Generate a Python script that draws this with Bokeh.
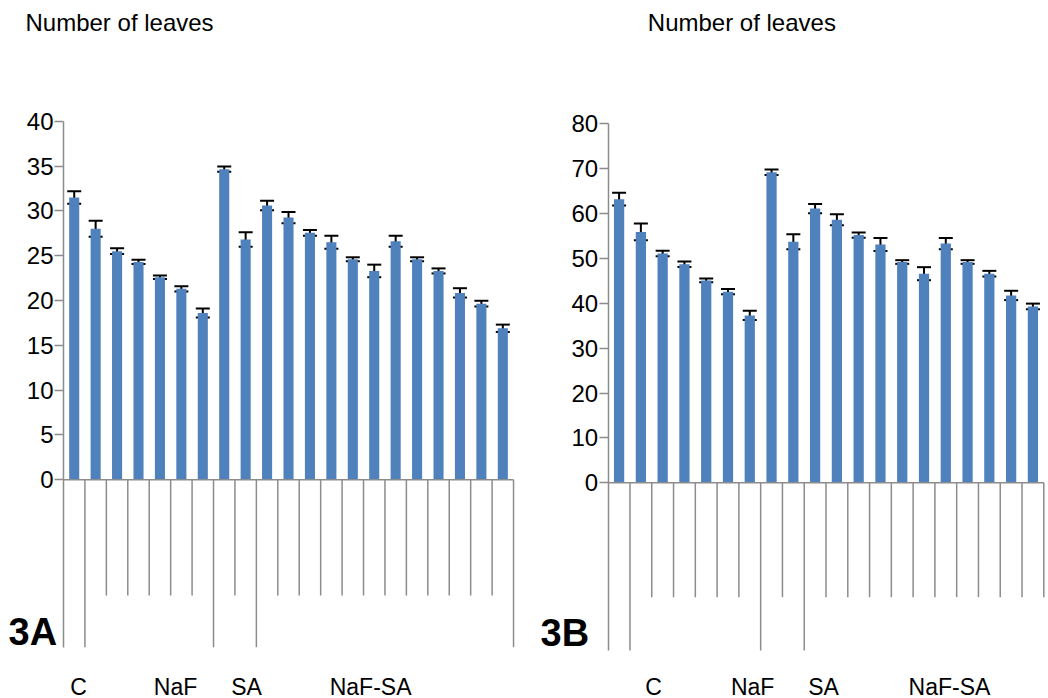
from bokeh.plotting import figure
from bokeh.models import (ColumnDataSource, Whisker, TeeHead, FixedTicker, Label,
                          Range1d, LinearAxis)
from bokeh.layouts import row
from bokeh.embed import file_html
from bokeh.resources import INLINE

# Treatment groups and how many bars each one spans
groups = ["C", "NaF", "SA", "NaF-SA"]
group_sizes_a = [1, 6, 2, 12]
group_sizes_b = [1, 6, 2, 11]

# 3A: number of leaves (mean and error)
leaves_a = [31.5, 28.0, 25.5, 24.3, 22.6, 21.3, 18.6, 34.65, 26.8, 30.6, 29.25,
            27.55, 26.5, 24.6, 23.3, 26.6, 24.6, 23.3, 20.85, 19.65, 16.9]
err_a = [0.7, 0.9, 0.32, 0.24, 0.2, 0.3, 0.5, 0.3, 0.8, 0.54, 0.63,
         0.32, 0.72, 0.22, 0.7, 0.61, 0.22, 0.28, 0.52, 0.32, 0.41]

# 3B: number of leaves (mean and error)
leaves_b = [63.2, 55.9, 51.1, 48.7, 45.1, 42.6, 37.3, 69.2, 53.7, 61.1,
            58.6, 55.2, 53.1, 49.2, 46.6, 53.3, 49.2, 46.6, 41.75, 39.3]
err_b = [1.41, 1.86, 0.63, 0.59, 0.41, 0.59, 1.04, 0.63, 1.67, 1.04,
         1.23, 0.59, 1.45, 0.41, 1.45, 1.26, 0.41, 0.63, 1.04, 0.63]

ticks_a = [0, 5, 10, 15, 20, 25, 30, 35, 40]
ticks_b = [0, 10, 20, 30, 40, 50, 60, 70, 80]

BAR_COLOR = "#4F81BD"
AXIS_COLOR = "#8c8c8c"
FONT = "Liberation Sans"
FIG_H = 698


def panel(name, values, errors, sizes, ticks, fig_w, axis_px, slot_px,
          top_px, zero_px, short_px, long_px, right_long, group_label_x,
          title_px, name_px, group_label_py):
    ymax = ticks[-1]
    scale = (zero_px - top_px) / ymax          # pixels per unit

    def dx(px):
        return (px - axis_px) / slot_px

    def dy(py):
        return (zero_px - py) / scale

    p = figure(width=fig_w, height=FIG_H, output_backend="svg", toolbar_location=None,
               x_range=Range1d(dx(0), dx(fig_w)), y_range=Range1d(dy(FIG_H), dy(0)),
               x_axis_location=None, y_axis_location=None,
               min_border=0)
    p.outline_line_color = None
    p.grid.visible = False
    p.background_fill_color = None
    p.border_fill_color = "white"

    n = len(values)
    xs = [i + 0.5 for i in range(n)]
    src = ColumnDataSource(dict(x=xs, top=values,
                                upper=[v + e for v, e in zip(values, errors)],
                                lower=[v - e for v, e in zip(values, errors)]))
    p.vbar(x="x", top="top", width=0.47, bottom=0, source=src,
           fill_color=BAR_COLOR, line_color=None)

    p.add_layout(Whisker(source=src, base="x", upper="upper", lower="lower",
                         line_color="black", line_width=2,
                         upper_head=TeeHead(size=14, line_color="black", line_width=2),
                         lower_head=TeeHead(size=14, line_color="black", line_width=2)))

    # value axis pinned at x=0; its line runs down as the first group divider
    ax = LinearAxis(fixed_location=0)
    ax.ticker = FixedTicker(ticks=ticks)
    ax.bounds = (dy(long_px), ymax)
    ax.axis_line_color = AXIS_COLOR
    ax.axis_line_width = 1.5
    ax.major_tick_line_color = AXIS_COLOR
    ax.major_tick_line_width = 1.5
    ax.major_tick_out = 9
    ax.major_tick_in = 0
    ax.minor_tick_out = 0
    ax.minor_tick_in = 0
    ax.major_label_standoff = 1
    ax.major_label_text_font = FONT
    ax.major_label_text_font_size = "24px"
    ax.major_label_text_color = "black"
    p.add_layout(ax, "left")

    # category baseline and dividers below it
    p.segment(x0=[0], y0=[0], x1=[n], y1=[0], line_color=AXIS_COLOR, line_width=1.5)
    bounds = []
    acc = 0
    for s in sizes:
        acc += s
        bounds.append(acc)
    x0, y1 = [], []
    for k in range(1, n + 1):
        is_long = k in bounds[:-1] or (k == n and right_long)
        x0.append(k)
        y1.append(dy(long_px) if is_long else dy(short_px))
    p.segment(x0=x0, y0=[0] * len(x0), x1=x0, y1=y1,
              line_color=AXIS_COLOR, line_width=1.5)

    for g, gx in zip(groups, group_label_x):
        p.add_layout(Label(x=gx, y=dy(group_label_py), text=g, text_font=FONT,
                           text_font_size="23px", text_align="center",
                           text_baseline="middle", text_color="black"))

    p.add_layout(Label(x=dx(title_px[0]), y=dy(title_px[1]), text="Number of leaves",
                       text_font=FONT, text_font_size="24px", text_align="left",
                       text_baseline="middle", text_color="black"))
    p.add_layout(Label(x=dx(name_px[0]), y=dy(name_px[1]), text=name,
                       text_font=FONT, text_font_size="38px", text_font_style="bold",
                       text_align="left", text_baseline="middle", text_color="black"))
    return p


pa = panel("3A", leaves_a, err_a, group_sizes_a, ticks_a, fig_w=530,
           axis_px=63, slot_px=21.43, top_px=120.7, zero_px=479.3,
           short_px=595, long_px=646.7, right_long=True,
           group_label_x=[0.70, 5.23, 8.54, 14.33],
           title_px=(25, 22), name_px=(8, 631), group_label_py=686)

pb = panel("3B", leaves_b, err_b, group_sizes_b, ticks_b, fig_w=518,
           axis_px=77.7, slot_px=21.78, top_px=123.3, zero_px=482.3,
           short_px=596.7, long_px=650, right_long=False,
           group_label_x=[2.08, 6.63, 9.89, 15.67],
           title_px=(117.3, 22), name_px=(10, 632), group_label_py=686)

layout = row(pa, pb)
open("out.html", "w").write(file_html(layout, INLINE))
